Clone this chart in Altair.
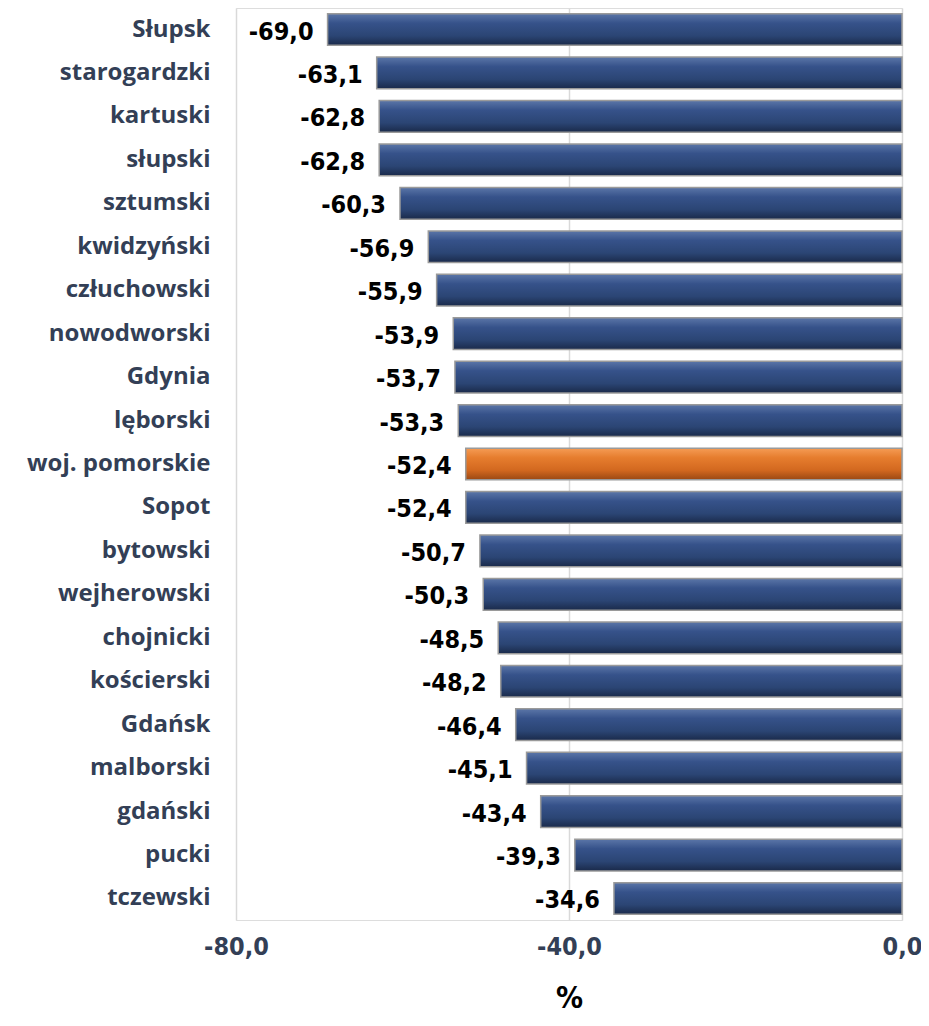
import altair as alt
import pandas as pd

categories = ["Słupsk ", "starogardzki", "kartuski", "słupski", "sztumski", "kwidzyński",
              "człuchowski", "nowodworski", "Gdynia", "lęborski", "woj. pomorskie", "Sopot",
              "bytowski", "wejherowski", "chojnicki", "kościerski", "Gdańsk ", "malborski",
              "gdański", "pucki", "tczewski"]
values = [-69.0, -63.1, -62.8, -62.8, -60.3, -56.9, -55.9, -53.9, -53.7, -53.3, -52.4, -52.4,
          -50.7, -50.3, -48.5, -48.2, -46.4, -45.1, -43.4, -39.3, -34.6]
highlight = "woj. pomorskie"
x_ticks = [-80, -40, 0]

df = pd.DataFrame({"cat": categories, "val": values})
df["hl"] = df["cat"] == highlight

navy = alt.Gradient(gradient="linear", x1=0, y1=0, x2=0, y2=1, stops=[
    alt.GradientStop(color="#5b76a8", offset=0),
    alt.GradientStop(color="#36528a", offset=0.3),
    alt.GradientStop(color="#2b4574", offset=0.7),
    alt.GradientStop(color="#1a2a4a", offset=1)])
orange = alt.Gradient(gradient="linear", x1=0, y1=0, x2=0, y2=1, stops=[
    alt.GradientStop(color="#f59c55", offset=0),
    alt.GradientStop(color="#e67d2e", offset=0.3),
    alt.GradientStop(color="#d2681f", offset=0.7),
    alt.GradientStop(color="#9a4813", offset=1)])

fmt = "replace(replace(format({v}, '.1f'), '.', ','), '\u2212', '-')"

ycat = alt.Y("cat:N", sort=categories, title=None,
             scale=alt.Scale(paddingInner=0.27, paddingOuter=0.13),
             axis=alt.Axis(domain=False, ticks=False, labelPadding=26, labelFontSize=24,
                           labelFont="Open Sans", labelFontWeight="bold", labelColor="#333f56",
                           labelLimit=400))
xval = alt.X("val:Q", title="%",
             scale=alt.Scale(domain=[-80, 0], nice=False),
             axis=alt.Axis(values=x_ticks, domain=False, ticks=False, grid=True,
                           gridColor="#d9d9d9", gridWidth=1.5, labelFlush=False,
                           labelExpr=fmt.format(v="datum.value"),
                           labelPadding=14, labelFontSize=25, labelFont="DejaVu Sans Condensed",
                           labelFontWeight="bold", labelColor="#333f56",
                           titleFontSize=30, titleFont="DejaVu Sans Condensed", titleFontWeight="bold",
                           titleColor="#000000", titlePadding=24))

base = alt.Chart(df)
bars_n = base.transform_filter("!datum.hl").mark_bar(
    color=navy, stroke="#9a9a9a", strokeWidth=1.5).encode(x=xval, y=ycat)
bars_o = base.transform_filter("datum.hl").mark_bar(
    color=orange, stroke="#9a9a9a", strokeWidth=1.5).encode(x=xval, y=ycat)
labels = base.transform_calculate(
    lab=fmt.format(v="datum.val")
).mark_text(align="right", baseline="middle", dx=-14, dy=2, fontSize=25,
            font="DejaVu Sans Condensed", fontWeight="bold", color="#000000").encode(
    x=alt.X("val:Q"), y=alt.Y("cat:N", sort=categories), text="lab:N")

chart = alt.layer(bars_n, bars_o, labels).properties(
    width=666, height=912,
    autosize=alt.AutoSizeParams(type="none"),
    padding={"left": 228, "top": 0, "right": 19, "bottom": 94}
).configure_view(stroke=None).configure(background="#ffffff")

chart.save("out.html", embed_options={"renderer": "svg", "actions": False})
